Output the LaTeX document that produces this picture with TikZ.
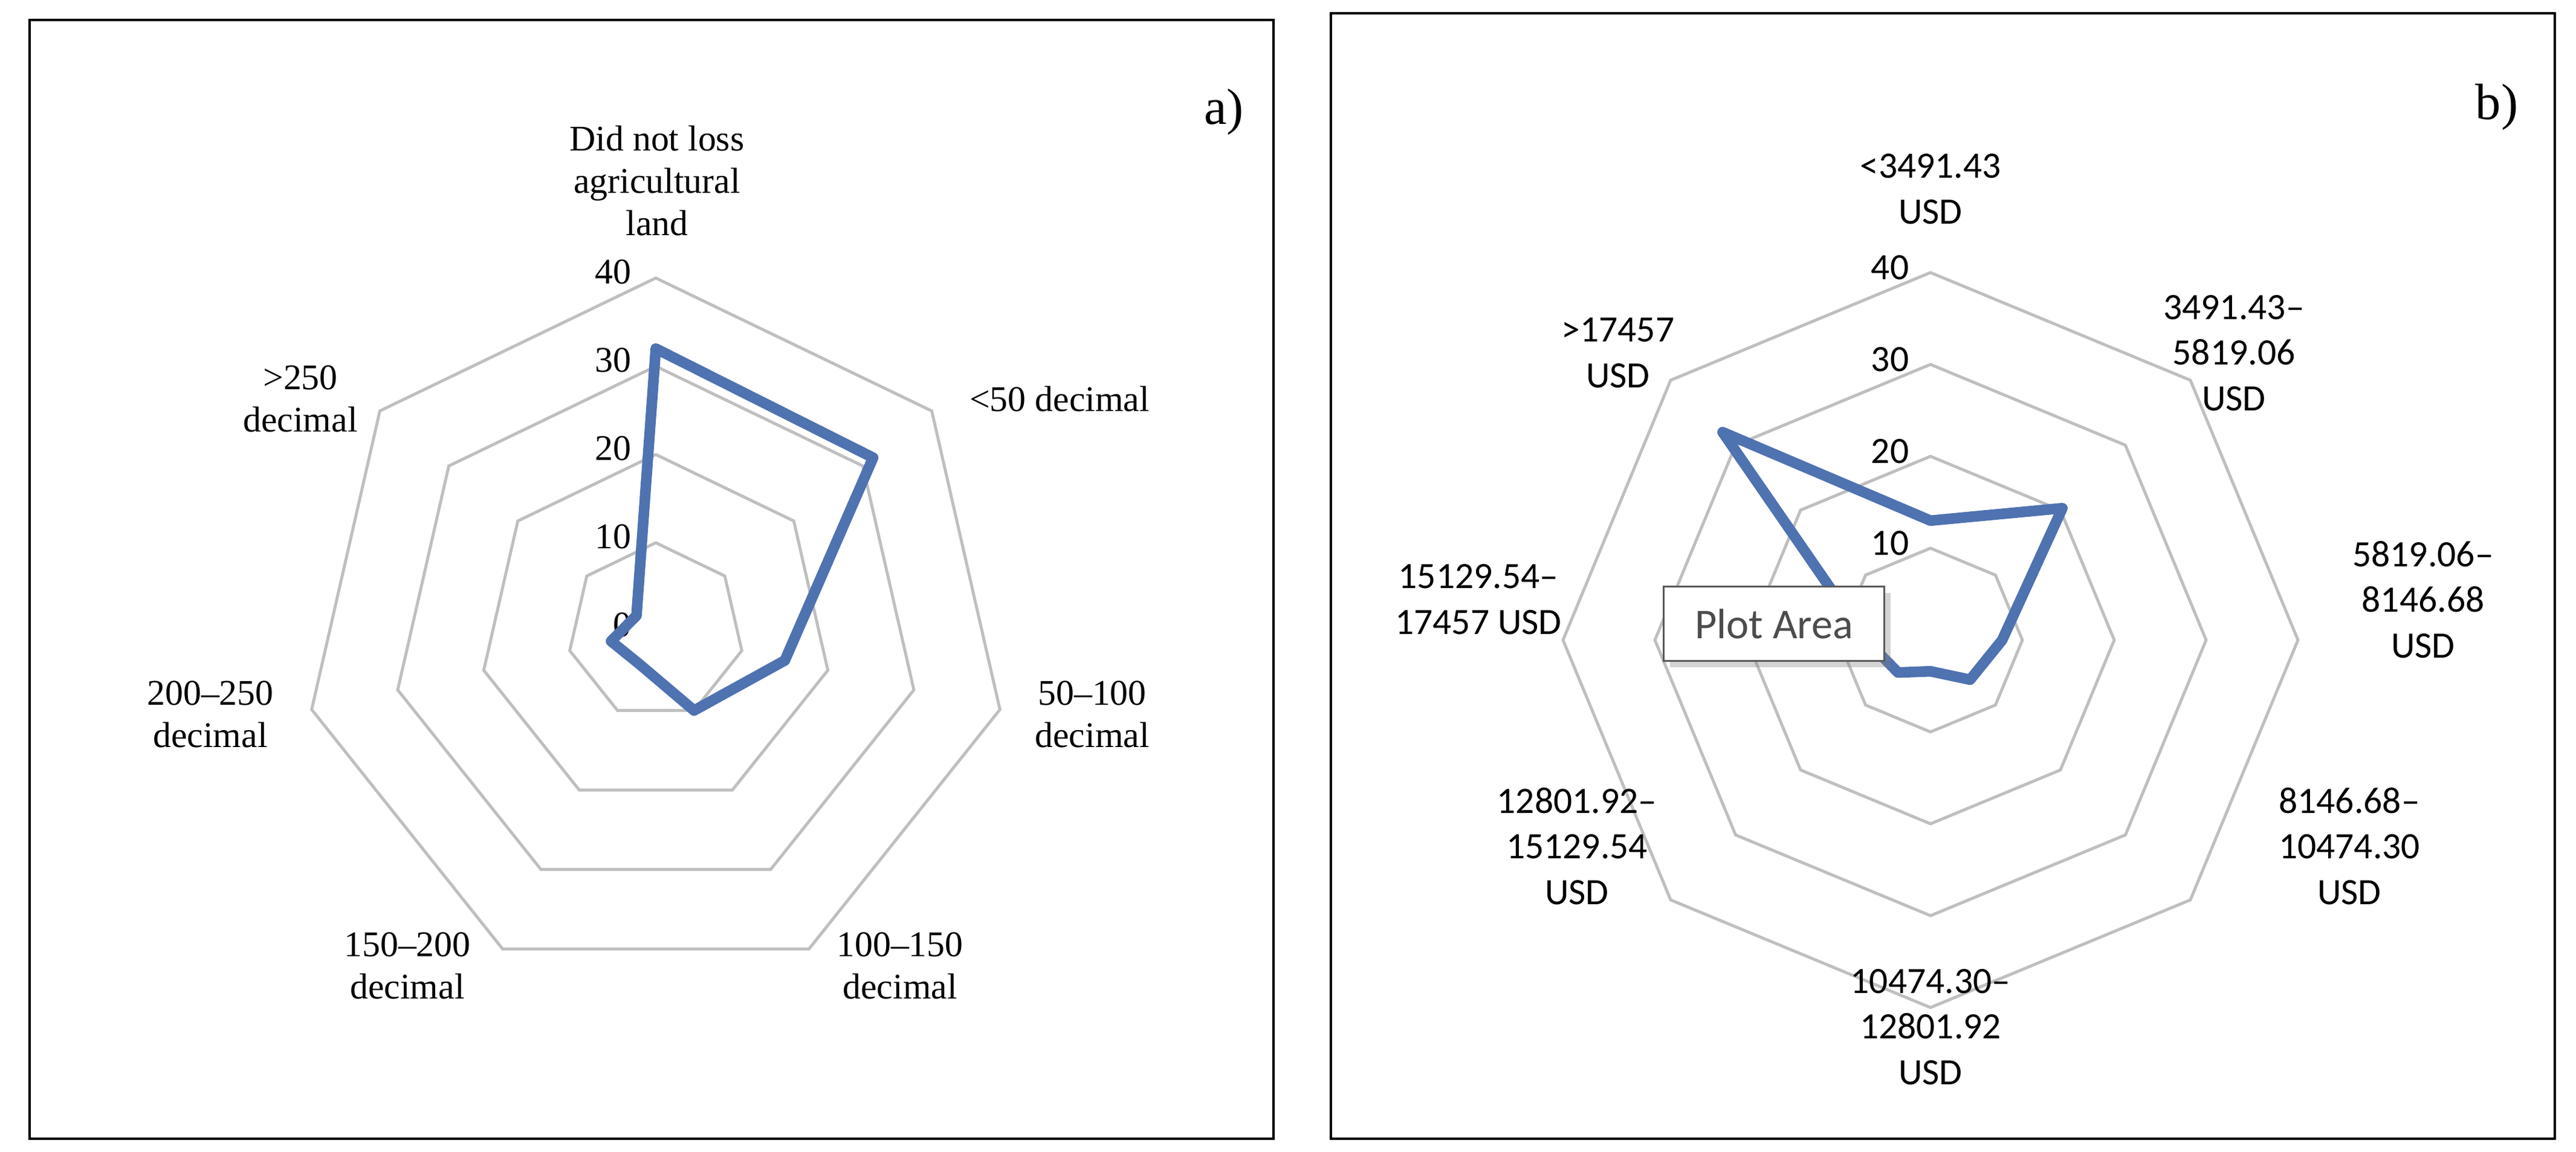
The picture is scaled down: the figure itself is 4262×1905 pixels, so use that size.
\documentclass[tikz,border=0pt]{standalone}
\usepackage{fontspec}
\setmainfont{Liberation Serif}
\newfontfamily\calib{Carlito}
\usetikzlibrary{positioning, shadows}
\definecolor{gridgray}{RGB}{191,191,191}
\definecolor{serieblue}{RGB}{79,114,176}
\tikzset{
	grid/.style={draw=gridgray, line width=1.4pt},
	serie/.style={draw=serieblue, line width=5pt, line join=round},
	lab/.style={align=center, font=\fontsize{17}{20}\selectfont, inner sep=0pt},
	labb/.style={align=center, font=\calib\fontsize{17.5}{21.5}\selectfont, inner sep=0pt},
	tick/.style={anchor=east, inner sep=0pt},
	panel/.style={draw=black, line width=1.2pt}
}
\begin{document}
\begin{tikzpicture}[x=0.01cm, y=0.01cm]
	\useasboundingbox (0,0) rectangle (4262,1905);
	\draw[panel] (49,21) rectangle (2107,1872);
	\draw[panel] (2202,21) rectangle (4227,1883);

	% a) heptagon
	\begin{scope}[shift={(1085,861)}]
		\foreach \r in {1,...,4}
			\draw[grid] (90:\r*146) \foreach \k in {1,...,6}{ -- ({90-\k*360/7}:\r*146)} -- cycle;
		\foreach \v in {0,10,20,30,40}
			\node[tick, lab] (ta\v) at (-40,\v*14.6+10) {\v};
		\draw[serie] (90:32*14.6) -- ({90-360/7}:31.5*14.6) -- ({90-2*360/7}:15*14.6)
			-- ({90-3*360/7}:10*14.6) -- ({90-4*360/7}:4.2*14.6) -- ({90-5*360/7}:5.2*14.6)
			-- ({90-6*360/7}:2.8*14.6) -- cycle;
	\end{scope}
	\node[lab] (a0) at (1087,1606) {Did not loss\\agricultural\\land};
	\node[lab] (a1) at (1753,1245) {<50 decimal};
	\node[lab] (a2) at (1807,723) {50–100\\decimal};
	\node[lab] (a3) at (1489,307) {100–150\\decimal};
	\node[lab] (a4) at (674,307) {150–200\\decimal};
	\node[lab] (a5) at (348,723) {200–250\\decimal};
	\node[lab] (a6) at (497,1245) {>250\\decimal};
	\node[lab, font=\fontsize{24}{28}\selectfont] (alab) at (2025,1720) {a)};

	% b) octagon
	\begin{scope}[shift={(3194,846)}]
		\foreach \r in {1,...,4}
			\draw[grid] (90:\r*152) \foreach \k in {1,...,7}{ -- ({90-\k*45}:\r*152)} -- cycle;
		\foreach \v in {10,20,30,40}
			\node[tick, labb] (tb\v) at (-35,\v*15.2+8) {\v};
		\draw[serie] (90:13*15.2) -- (45:20.3*15.2) -- (0:7.8*15.2) -- (-45:6.1*15.2)
			-- (-90:3.4*15.2) -- (-135:5*15.2) -- (180:7*15.2) -- (135:32*15.2) -- cycle;
	\end{scope}
	\node[labb] (b0) at (3194,1592) {<3491.43\\USD};
	\node[labb] (b1) at (3696,1321) {3491.43–\\5819.06\\USD};
	\node[labb] (b2) at (4009,913) {5819.06–\\8146.68\\USD};
	\node[labb] (b3) at (3887,505) {8146.68–\\10474.30\\USD};
	\node[labb] (b4) at (3194,206) {10474.30–\\12801.92\\USD};
	\node[labb] (b5) at (2609,505) {12801.92–\\15129.54\\USD};
	\node[labb] (b6) at (2446,913) {15129.54–\\17457 USD};
	\node[labb] (b7) at (2677,1321) {>17457\\USD};
	\node[labb, font=\fontsize{24}{28}\selectfont] (blab) at (4131,1728) {b)};
	\node[draw=gray!70!black, fill=white, line width=1pt, minimum width=3.65cm, minimum height=1.23cm,
		drop shadow={shadow xshift=3pt, shadow yshift=-3pt, opacity=0.35},
		font=\calib\fontsize{20}{22}\selectfont, text=gray!60!black] (plot) at (2935,873) {Plot Area};
\end{tikzpicture}
\end{document}
